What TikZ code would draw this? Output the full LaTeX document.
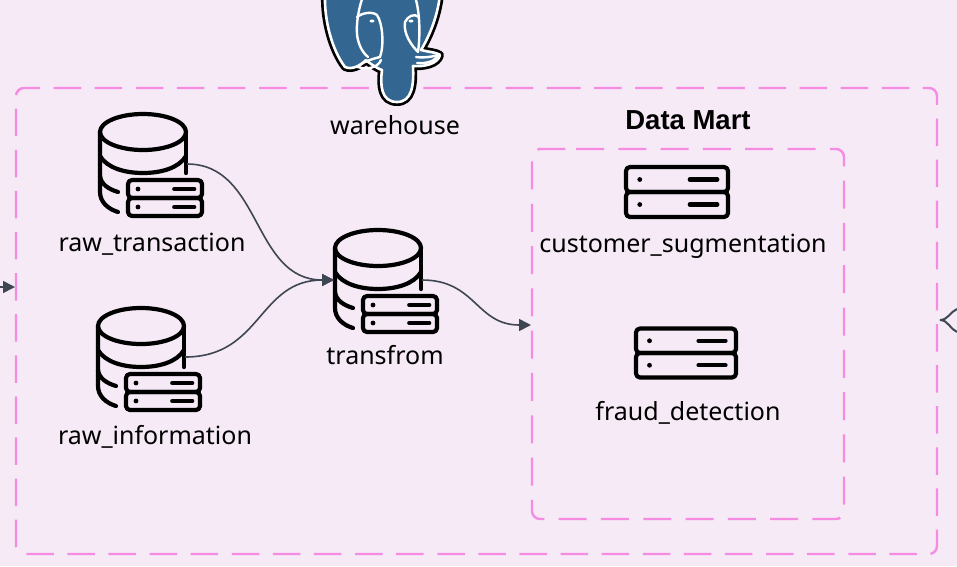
\documentclass[tikz,border=0pt]{standalone}
\usepackage{fontspec}
\setmainfont{Noto Sans}
\newfontfamily\martfont{Liberation Sans}
\usetikzlibrary{arrows.meta}
\definecolor{bgpink}{RGB}{245,234,246}
\definecolor{dashpink}{RGB}{246,140,226}
\definecolor{wire}{RGB}{62,70,82}
\definecolor{pgblue}{RGB}{51,103,145}
\tikzset{
    %Define standard arrow tip
    wirestyle/.style={wire, line width=1.6pt},
    wiretip/.style={-{Triangle[length=12pt,width=12pt]}},
    zonestyle/.style={dashpink, line width=2.4pt, rounded corners=8pt},
    iconstyle/.style={black, line width=4.2pt, line cap=round, line join=round},
    labelstyle/.style={font=\fontsize{25}{28}\selectfont, text=black, inner sep=0pt},
    earstyle/.style={white, line width=2.4pt, line cap=round}
}
\def\rSrv#1#2#3 {
    \begin{scope}[shift={#3}]
        \draw[iconstyle, rounded corners=4pt] (-#1,-#2) rectangle (#1,0);
        \draw[iconstyle, rounded corners=4pt] (-#1,0) rectangle (#1,#2);
        \fill[black] (-#1+0.27*#1,-#2/2) circle (2.4pt);
        \fill[black] (-#1+0.27*#1,#2/2) circle (2.4pt);
        \draw[iconstyle] (#1-0.75*#1,-#2/2) -- (#1-0.21*#1,-#2/2);
        \draw[iconstyle] (#1-0.75*#1,#2/2) -- (#1-0.21*#1,#2/2);
    \end{scope}
}
\def\cDb#1 {
    \begin{scope}[shift={#1}]
        \draw[iconstyle] (0,0) ellipse (43 and 18);
        \draw[iconstyle] (-43,0) -- (-43,60) .. controls (-43,70) and (-35,77) .. (-25,80);
        \draw[iconstyle] (43,0) -- (43,41);
        \draw[iconstyle] (-43,24) .. controls (-36,36) and (-18,41) .. (0,41) .. controls (18,41) and (36,36) .. (43,24);
        \draw[iconstyle] (-43,44) .. controls (-42,52) and (-35,57) .. (-25,60);
        \rSrv{37}{18}{(22,66)}
    \end{scope}
}
\begin{document}
\begin{tikzpicture}[x=1pt,y=-1pt]
    \useasboundingbox (0,0) rectangle (957,566);
    \fill[bgpink] (0,0) rectangle (957,566);

    % zones
    \draw[zonestyle, dash pattern=on 27.5pt off 13.6pt] (545,88) -- (937,88) -- (937,554) -- (16,554) -- (16,88) -- cycle;
    \draw[zonestyle, dash pattern=on 28pt off 14.3pt] (568,149) -- (844,149) -- (844,519) -- (532,519) -- (532,149) -- cycle;

    % elephant
    \begin{scope}
        \clip (0,0) rectangle (957,566);
        \def\elephant{(325,-6) .. controls (324,20) and (332,50) .. (345,67) .. controls (352,70) and (360,66) .. (366,60)
            .. controls (368,62) and (376,68) .. (382,70) .. controls (380,85) and (381,102) .. (397,102)
            .. controls (412,102) and (414,85) .. (413,66) .. controls (424,67) and (438,64) .. (440,55)
            .. controls (436,52) and (428,52) .. (421,50) .. controls (430,35) and (438,15) .. (440,-6) -- cycle}
        \draw[black, line width=8pt, line join=round] \elephant;
        \draw[white, line width=2.6pt, fill=pgblue, line join=round] \elephant;
        % head and eyes
        \draw[earstyle] (364,-6) .. controls (358,8) and (355,30) .. (358,40) .. controls (360,48) and (364,54) .. (368,57);
        \draw[earstyle] (357,17) .. controls (362,13) and (372,11) .. (377,15) .. controls (383,24) and (384,46) .. (380,57);
        \draw[earstyle] (414,-6) .. controls (419,6) and (421,30) .. (418,52);
        \draw[earstyle] (419,17) .. controls (414,13) and (408,16) .. (405,22) .. controls (403,34) and (412,46) .. (418,52);
        % jaws
        \draw[earstyle] (380,57) .. controls (372,59) and (362,62) .. (358,67) .. controls (366,70) and (378,68) .. (381,60);
        \draw[earstyle] (416,57) .. controls (422,58) and (432,57) .. (438,55) .. controls (436,61) and (426,64) .. (417,63);
        \fill[white] (372,21) ellipse (2.5 and 1.5);
        \fill[white] (411,21) ellipse (2.5 and 1.5);
    \end{scope}

    \cDb{(143,132)}
    \cDb{(141,326)}
    \cDb{(378,248)}
    \rSrv{51}{25}{(677,192)}
    \rSrv{50}{24.5}{(686,353)}

    \node[labelstyle] (warehouse) at (395,125) {warehouse};
    \node[labelstyle] (rawtransaction) at (152,244) {raw\_transaction};
    \node[labelstyle] (rawinformation) at (155,437) {raw\_information};
    \node[labelstyle] (transfrom) at (385,355) {transfrom};
    \node[labelstyle] (customer) at (683,246) {customer\_sugmentation};
    \node[labelstyle] (fraud) at (688,413) {fraud\_detection};
    \node[text=black, inner sep=0pt, font=\martfont\fontsize{27.5}{30}\selectfont\bfseries] (mart) at (688,120) {Data Mart};

    \coordinate (transactionout) at (187,164);
    \coordinate (informationout) at (185,357);
    \coordinate (transfromin) at (334,280);
    \coordinate (transfromout) at (422,280);
    \coordinate (martin) at (531,325);
    \coordinate (leftin) at (0,287);
    \coordinate (leftzone) at (15,287);
    \coordinate (forkroot) at (940,320);
    \coordinate (forkup) at (957,309);
    \coordinate (forkdown) at (957,332);

    \draw[wirestyle, wiretip] (transactionout) .. controls (262,164) and (252,280) .. (transfromin);
    \draw[wirestyle, wiretip] (informationout) .. controls (262,357) and (258,280) .. (transfromin);
    \draw[wirestyle, wiretip] (transfromout) .. controls (476,280) and (476,325) .. (martin);
    \draw[wirestyle, wiretip] (leftin) -- (leftzone);
    \draw[wirestyle, line width=2pt] (forkup) .. controls (950,312) and (948,320) .. (forkroot);
    \draw[wirestyle, line width=2pt] (forkdown) .. controls (950,329) and (948,320) .. (forkroot);
\end{tikzpicture}
\end{document}
